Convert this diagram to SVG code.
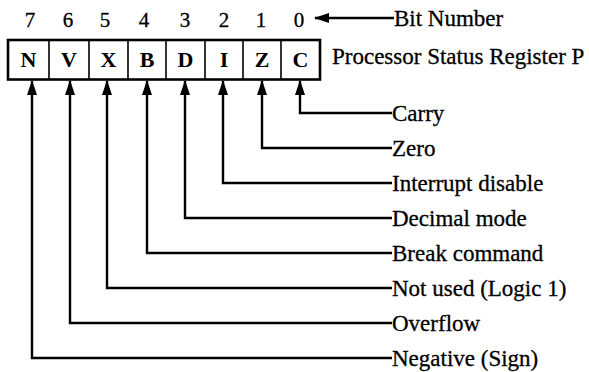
<svg xmlns="http://www.w3.org/2000/svg" width="589" height="372" viewBox="0 0 589 372">
<style>
  .lbl { font-family: "Liberation Serif", "Times New Roman", serif; font-size: 23px; fill: #000; stroke: #000; stroke-width: 0.3; }
  .dig { font-family: "Liberation Serif", "Times New Roman", serif; font-size: 21px; fill: #000; text-anchor: middle; stroke: #000; stroke-width: 0.3; }
  .bit { font-family: "Liberation Serif", "Times New Roman", serif; font-size: 22px; font-weight: bold; fill: #000; text-anchor: middle; }
  .div { stroke: #000; stroke-width: 1.6; }
  .wire { fill: none; stroke: #000; stroke-width: 2.4; }
</style>
<defs>
  <marker id="ah" viewBox="0 0 15 10" refX="14" refY="5" markerWidth="15" markerHeight="10" markerUnits="userSpaceOnUse" orient="auto">
    <path d="M15,5 L0,0 L0,10 Z" fill="#000"/>
  </marker>
</defs>
<rect width="589" height="372" fill="#fff"/>

<g id="bitnumbers">
  <text class="dig" x="30" y="27">7</text>
  <text class="dig" x="68" y="27">6</text>
  <text class="dig" x="105" y="27">5</text>
  <text class="dig" x="144" y="27">4</text>
  <text class="dig" x="185" y="27">3</text>
  <text class="dig" x="224" y="27">2</text>
  <text class="dig" x="261" y="27">1</text>
  <text class="dig" x="299" y="27">0</text>
</g>

<g id="register">
  <rect x="8" y="40" width="312" height="39.5" fill="#fff" stroke="#000" stroke-width="2.6"/>
  <g id="bit7"><line class="div" x1="49" y1="40" x2="49" y2="79.5"/><text class="bit" x="28.5" y="67">N</text></g>
  <g id="bit6"><line class="div" x1="89" y1="40" x2="89" y2="79.5"/><text class="bit" x="69" y="67">V</text></g>
  <g id="bit5"><line class="div" x1="128" y1="40" x2="128" y2="79.5"/><text class="bit" x="108.5" y="67">X</text></g>
  <g id="bit4"><line class="div" x1="166" y1="40" x2="166" y2="79.5"/><text class="bit" x="147" y="67">B</text></g>
  <g id="bit3"><line class="div" x1="205" y1="40" x2="205" y2="79.5"/><text class="bit" x="185.5" y="67">D</text></g>
  <g id="bit2"><line class="div" x1="243" y1="40" x2="243" y2="79.5"/><text class="bit" x="224" y="67">I</text></g>
  <g id="bit1"><line class="div" x1="281" y1="40" x2="281" y2="79.5"/><text class="bit" x="262" y="67">Z</text></g>
  <g id="bit0"><text class="bit" x="300.5" y="67">C</text></g>
</g>

<g id="title"><text class="lbl" x="332" y="64">Processor Status Register P</text></g>
<g id="bitnumber-label"><text class="lbl" x="394" y="26">Bit Number</text></g>

<g id="labels">
  <text class="lbl" x="392" y="121">Carry</text>
  <text class="lbl" x="392" y="156">Zero</text>
  <text class="lbl" x="392" y="191">Interrupt disable</text>
  <text class="lbl" x="392" y="226">Decimal mode</text>
  <text class="lbl" x="392" y="261">Break command</text>
  <text class="lbl" x="392" y="296">Not used (Logic 1)</text>
  <text class="lbl" x="392" y="331">Overflow</text>
  <text class="lbl" x="392" y="366">Negative (Sign)</text>
</g>

<g id="connectors">
  <path class="wire" d="M394,18 H315" marker-end="url(#ah)"/>
  <path class="wire" d="M392,113 H300 V81" marker-end="url(#ah)"/>
  <path class="wire" d="M392,148 H262 V81" marker-end="url(#ah)"/>
  <path class="wire" d="M392,183 H223 V81" marker-end="url(#ah)"/>
  <path class="wire" d="M392,218 H185 V81" marker-end="url(#ah)"/>
  <path class="wire" d="M392,253 H147 V81" marker-end="url(#ah)"/>
  <path class="wire" d="M392,288 H107 V81" marker-end="url(#ah)"/>
  <path class="wire" d="M392,323 H70 V81" marker-end="url(#ah)"/>
  <path class="wire" d="M392,358 H32 V81" marker-end="url(#ah)"/>
</g>
</svg>
